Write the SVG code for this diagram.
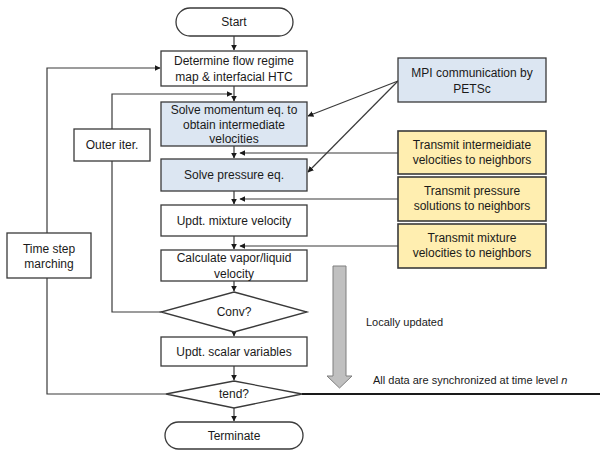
<svg xmlns="http://www.w3.org/2000/svg" width="600" height="452" viewBox="0 0 600 452">
  <style>
    .box { fill: #ffffff; stroke: #3a3a3a; stroke-width: 1.3; }
    .blue { fill: #dce6f2; stroke: #3a3a3a; stroke-width: 1.3; }
    .yellow { fill: #ffeeb0; stroke: #3a3a3a; stroke-width: 1.6; }
    .lbl { font-family: "Liberation Sans", Arial, sans-serif; font-size: 12px; fill: #1a1a1a; text-anchor: middle; }
    .note { font-family: "Liberation Sans", Arial, sans-serif; font-size: 11px; fill: #1a1a1a; }
    .wire { fill: none; stroke: #3a3a3a; stroke-width: 1.2; }
  </style>
  <defs>
    <marker id="ah" viewBox="0 0 10 10" refX="9" refY="5" markerWidth="6" markerHeight="6" markerUnits="userSpaceOnUse" orient="auto">
      <path d="M0,0 L10,5 L0,10 z" fill="#1a1a1a"/>
    </marker>
  </defs>

  <rect width="600" height="452" fill="#ffffff"/>

  <!-- connectors -->
  <g id="connectors">
    <line class="wire" x1="234" y1="36" x2="234" y2="50" marker-end="url(#ah)"/>
    <line class="wire" x1="234" y1="86" x2="234" y2="101" marker-end="url(#ah)"/>
    <line class="wire" x1="234" y1="146" x2="234" y2="158" marker-end="url(#ah)"/>
    <line class="wire" x1="234" y1="191" x2="234" y2="204" marker-end="url(#ah)"/>
    <line class="wire" x1="234" y1="236" x2="234" y2="249" marker-end="url(#ah)"/>
    <line class="wire" x1="234" y1="281" x2="234" y2="291" marker-end="url(#ah)"/>
    <line class="wire" x1="234" y1="332" x2="234" y2="336" marker-end="url(#ah)"/>
    <line class="wire" x1="234" y1="366" x2="234" y2="380" marker-end="url(#ah)"/>
    <line class="wire" x1="234" y1="408" x2="234" y2="421" marker-end="url(#ah)"/>

    <!-- outer iteration loop -->
    <polyline class="wire" points="161,312 112,312 112,94 232,94" marker-end="url(#ah)"/>
    <!-- time step loop -->
    <polyline class="wire" points="166,394 47,394 47,68 160,68" marker-end="url(#ah)"/>

    <!-- MPI communication -->
    <line class="wire" x1="398" y1="81" x2="308" y2="116" marker-end="url(#ah)"/>
    <line class="wire" x1="398" y1="81" x2="308" y2="172" marker-end="url(#ah)"/>

    <!-- neighbour transfers -->
    <line class="wire" x1="398" y1="153" x2="240" y2="153" marker-end="url(#ah)"/>
    <line class="wire" x1="398" y1="199" x2="240" y2="199" marker-end="url(#ah)"/>
    <line class="wire" x1="398" y1="246" x2="240" y2="246" marker-end="url(#ah)"/>

    <!-- synchronisation line -->
    <line x1="302" y1="394" x2="600" y2="394" stroke="#1a1a1a" stroke-width="2"/>
  </g>

  <g id="start">
    <rect class="box" x="176" y="8" width="117" height="28" rx="14"/>
    <text class="lbl" x="234" y="26">Start</text>
  </g>

  <g id="flow-regime">
    <rect class="box" x="161" y="51" width="146" height="35"/>
    <text class="lbl" x="234" y="65">Determine flow regime</text>
    <text class="lbl" x="234" y="81">map &amp; interfacial HTC</text>
  </g>

  <g id="momentum">
    <rect class="blue" x="161" y="102" width="146" height="44"/>
    <text class="lbl" x="234" y="114">Solve momentum eq. to</text>
    <text class="lbl" x="234" y="128.5">obtain intermediate</text>
    <text class="lbl" x="234" y="143">velocities</text>
  </g>

  <g id="pressure">
    <rect class="blue" x="161" y="159" width="146" height="32"/>
    <text class="lbl" x="234" y="179">Solve pressure eq.</text>
  </g>

  <g id="mixture">
    <rect class="box" x="161" y="205" width="146" height="31"/>
    <text class="lbl" x="234" y="225">Updt. mixture velocity</text>
  </g>

  <g id="phase-velocity">
    <rect class="box" x="161" y="250" width="146" height="31"/>
    <text class="lbl" x="234" y="262">Calculate vapor/liquid</text>
    <text class="lbl" x="234" y="278">velocity</text>
  </g>

  <g id="conv">
    <polygon class="box" points="234,292 307,312 234,332 161,312"/>
    <text class="lbl" x="234" y="316">Conv?</text>
  </g>

  <g id="scalar">
    <rect class="box" x="161" y="337" width="146" height="29"/>
    <text class="lbl" x="234" y="355.5">Updt. scalar variables</text>
  </g>

  <g id="tend">
    <polygon class="box" points="234,381 302,394 234,408 166,394"/>
    <text class="lbl" x="234" y="398">tend?</text>
  </g>

  <g id="terminate">
    <rect class="box" x="165" y="422" width="138" height="27" rx="13.5"/>
    <text class="lbl" x="234" y="439.5">Terminate</text>
  </g>

  <g id="outer-iter">
    <rect class="box" x="74" y="129" width="76" height="32"/>
    <text class="lbl" x="112" y="149">Outer iter.</text>
  </g>

  <g id="time-step">
    <rect class="box" x="7" y="233" width="84" height="45"/>
    <text class="lbl" x="49" y="253">Time step</text>
    <text class="lbl" x="49" y="268">marching</text>
  </g>

  <g id="mpi">
    <rect class="blue" x="398" y="58" width="148" height="44"/>
    <text class="lbl" x="472" y="77">MPI communication by</text>
    <text class="lbl" x="472" y="93">PETSc</text>
  </g>

  <g id="send-intermediate">
    <rect class="yellow" x="398" y="131" width="148" height="43"/>
    <text class="lbl" x="472" y="149">Transmit intermeidiate</text>
    <text class="lbl" x="472" y="164">velocities to neighbors</text>
  </g>

  <g id="send-pressure">
    <rect class="yellow" x="398" y="177" width="148" height="44"/>
    <text class="lbl" x="472" y="195">Transmit pressure</text>
    <text class="lbl" x="472" y="210">solutions to neighbors</text>
  </g>

  <g id="send-mixture">
    <rect class="yellow" x="398" y="224" width="148" height="44"/>
    <text class="lbl" x="472" y="242">Transmit mixture</text>
    <text class="lbl" x="472" y="257">velocities to neighbors</text>
  </g>

  <!-- downward block arrow: local update to synchronisation -->
  <g id="update-arrow">
    <polygon points="333,266 346,266 346,376 352,376 339.5,388 327,376 333,376" fill="#c0c0c0" stroke="#7f7f7f" stroke-width="1"/>
  </g>

  <text class="note" x="366" y="326">Locally updated</text>
  <text class="note" x="373" y="384">All data are synchronized at time level <tspan font-style="italic">n</tspan></text>
</svg>
